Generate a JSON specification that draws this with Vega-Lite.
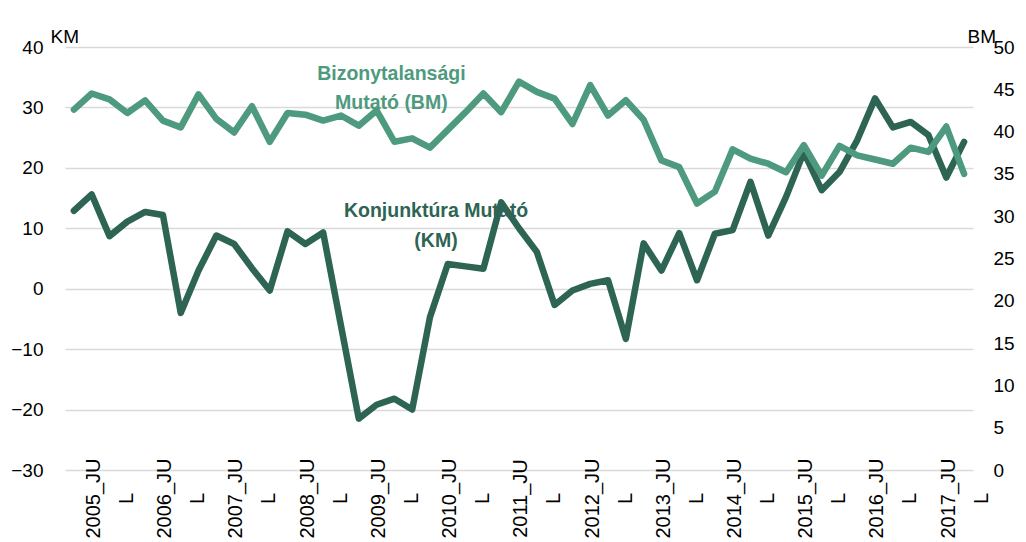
{
  "$schema": "https://vega.github.io/schema/vega-lite/v6.json",
  "width": 908,
  "height": 423,
  "autosize": {"type": "none"},
  "padding": {"left": 65, "top": 47, "right": 53, "bottom": 72},
  "background": "white",
  "config": {
    "view": {"stroke": null},
    "font": "Liberation Sans",
    "axis": {"labelColor": "#000000", "titleColor": "#000000", "labelFont": "Liberation Sans", "titleFont": "Liberation Sans"}
  },
  "data": {
    "values": [
      {"negyedev": "2005_JAN", "KM": 12.9, "BM": 42.6},
      {"negyedev": "2005_APR", "KM": 15.6, "BM": 44.5},
      {"negyedev": "2005_JUL", "KM": 8.7, "BM": 43.8},
      {"negyedev": "2005_OKT", "KM": 11.1, "BM": 42.2},
      {"negyedev": "2006_JAN", "KM": 12.7, "BM": 43.7},
      {"negyedev": "2006_APR", "KM": 12.2, "BM": 41.3},
      {"negyedev": "2006_JUL", "KM": -4.0, "BM": 40.5},
      {"negyedev": "2006_OKT", "KM": 3.0, "BM": 44.4},
      {"negyedev": "2007_JAN", "KM": 8.8, "BM": 41.5},
      {"negyedev": "2007_APR", "KM": 7.4, "BM": 39.9},
      {"negyedev": "2007_JUL", "KM": 3.4, "BM": 43.0},
      {"negyedev": "2007_OKT", "KM": -0.3, "BM": 38.8},
      {"negyedev": "2008_JAN", "KM": 9.5, "BM": 42.2},
      {"negyedev": "2008_APR", "KM": 7.4, "BM": 42.0},
      {"negyedev": "2008_JUL", "KM": 9.3, "BM": 41.3},
      {"negyedev": "2008_OKT", "KM": -6.1, "BM": 41.9},
      {"negyedev": "2009_JAN", "KM": -21.5, "BM": 40.7},
      {"negyedev": "2009_APR", "KM": -19.2, "BM": 42.5},
      {"negyedev": "2009_JUL", "KM": -18.2, "BM": 38.8},
      {"negyedev": "2009_OKT", "KM": -20.0, "BM": 39.2},
      {"negyedev": "2010_JAN", "KM": -4.7, "BM": 38.1},
      {"negyedev": "2010_APR", "KM": 4.1, "BM": 40.2},
      {"negyedev": "2010_JUL", "KM": 3.7, "BM": 42.3},
      {"negyedev": "2010_OKT", "KM": 3.3, "BM": 44.5},
      {"negyedev": "2011_JAN", "KM": 14.3, "BM": 42.3},
      {"negyedev": "2011_APR", "KM": 10.0, "BM": 45.9},
      {"negyedev": "2011_JUL", "KM": 6.1, "BM": 44.7},
      {"negyedev": "2011_OKT", "KM": -2.7, "BM": 43.9},
      {"negyedev": "2012_JAN", "KM": -0.3, "BM": 40.9},
      {"negyedev": "2012_APR", "KM": 0.8, "BM": 45.5},
      {"negyedev": "2012_JUL", "KM": 1.4, "BM": 41.9},
      {"negyedev": "2012_OKT", "KM": -8.3, "BM": 43.7},
      {"negyedev": "2013_JAN", "KM": 7.5, "BM": 41.4},
      {"negyedev": "2013_APR", "KM": 3.0, "BM": 36.6},
      {"negyedev": "2013_JUL", "KM": 9.2, "BM": 35.8},
      {"negyedev": "2013_OKT", "KM": 1.4, "BM": 31.5},
      {"negyedev": "2014_JAN", "KM": 9.1, "BM": 32.9},
      {"negyedev": "2014_APR", "KM": 9.7, "BM": 37.9},
      {"negyedev": "2014_JUL", "KM": 17.7, "BM": 36.8},
      {"negyedev": "2014_OKT", "KM": 8.8, "BM": 36.2},
      {"negyedev": "2015_JAN", "KM": 15.2, "BM": 35.2},
      {"negyedev": "2015_APR", "KM": 22.6, "BM": 38.4},
      {"negyedev": "2015_JUL", "KM": 16.3, "BM": 34.8},
      {"negyedev": "2015_OKT", "KM": 19.3, "BM": 38.3},
      {"negyedev": "2016_JAN", "KM": 24.6, "BM": 37.2},
      {"negyedev": "2016_APR", "KM": 31.5, "BM": 36.7},
      {"negyedev": "2016_JUL", "KM": 26.7, "BM": 36.2},
      {"negyedev": "2016_OKT", "KM": 27.6, "BM": 38.1},
      {"negyedev": "2017_JAN", "KM": 25.4, "BM": 37.6},
      {"negyedev": "2017_APR", "KM": 18.4, "BM": 40.6},
      {"negyedev": "2017_JUL", "KM": 24.3, "BM": 35.0}
    ]
  },
  "encoding": {
    "x": {
      "field": "negyedev",
      "type": "ordinal",
      "sort": null,
      "scale": {"type": "point", "padding": 0.5},
      "axis": {
        "values": ["2005_JUL", "2006_JUL", "2007_JUL", "2008_JUL", "2009_JUL", "2010_JUL", "2011_JUL", "2012_JUL", "2013_JUL", "2014_JUL", "2015_JUL", "2016_JUL", "2017_JUL"],
        "labelExpr": "[substring(datum.label, 0, 7), substring(datum.label, 7)]",
        "labelAngle": 270,
        "labelAlign": "center",
        "labelBaseline": "middle",
        "labelPadding": 28,
        "labelOffset": -16,
        "labelFontSize": 20,
        "labelLineHeight": 33,
        "labelOverlap": false,
        "labelBound": false,
        "labelFlush": false,
        "ticks": false,
        "domain": false,
        "grid": false,
        "title": null
      }
    }
  },
  "layer": [
    {
      "layer": [
        {
          "mark": {"type": "line", "color": "#2d6454", "strokeWidth": 6.5, "strokeJoin": "round", "strokeCap": "round"},
          "encoding": {
            "y": {
              "field": "KM",
              "type": "quantitative",
              "scale": {"domain": [-30, 40], "nice": false, "zero": false},
              "axis": {
                "orient": "left",
                "values": [-30, -20, -10, 0, 10, 20, 30, 40],
                "grid": true,
                "gridColor": "#d9d9d9",
                "gridWidth": 1.5,
                "domain": false,
                "ticks": false,
                "labelPadding": 22,
                "labelFontSize": 19,
                "title": "KM",
                "titleAngle": 0,
                "titleX": -15,
                "titleY": -5,
                "titleAlign": "left",
                "titleBaseline": "alphabetic",
                "titleFontSize": 19,
                "titleFontWeight": "normal"
              }
            }
          }
        },
        {
          "data": {"values": [{}]},
          "mark": {"type": "text", "text": ["Konjunktúra Mutató", "(KM)"], "font": "Liberation Sans", "fontSize": 19.5, "fontWeight": "bold", "color": "#2d6454", "lineHeight": 30, "align": "center", "baseline": "middle", "dx": 6},
          "encoding": {"x": {"datum": "2010_JAN"}, "y": {"datum": 12.8}}
        },
        {
          "data": {"values": [{}]},
          "mark": {"type": "text", "text": ["Bizonytalansági", "Mutató (BM)"], "font": "Liberation Sans", "fontSize": 19.5, "fontWeight": "bold", "color": "#4e9a7e", "lineHeight": 29, "align": "center", "baseline": "middle", "dx": -3},
          "encoding": {"x": {"datum": "2009_JUL"}, "y": {"datum": 35.5}}
        }
      ]
    },
    {
      "mark": {"type": "line", "color": "#4e9a7e", "strokeWidth": 6.5, "strokeJoin": "round", "strokeCap": "round"},
      "encoding": {
        "y": {
          "field": "BM",
          "type": "quantitative",
          "scale": {"domain": [0, 50], "nice": false, "zero": false},
          "axis": {
            "orient": "right",
            "values": [0, 5, 10, 15, 20, 25, 30, 35, 40, 45, 50],
            "grid": false,
            "domain": false,
            "ticks": false,
            "labelPadding": 20,
            "labelFontSize": 19,
            "title": "BM",
            "titleAngle": 0,
            "titleX": -6,
            "titleY": -5,
            "titleAlign": "left",
            "titleBaseline": "alphabetic",
            "titleFontSize": 19,
            "titleFontWeight": "normal"
          }
        }
      }
    }
  ],
  "resolve": {"scale": {"y": "independent"}}
}
